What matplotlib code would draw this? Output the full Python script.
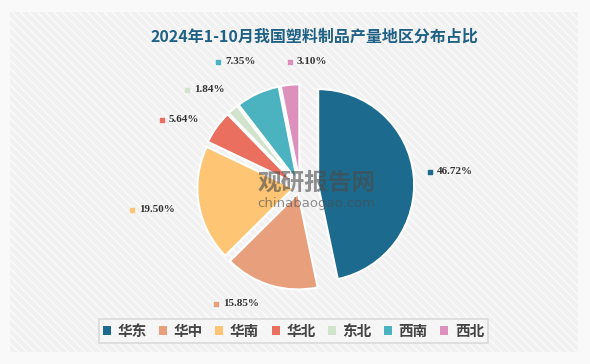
import matplotlib
matplotlib.use("Agg")
import matplotlib.pyplot as plt
from matplotlib.patches import Rectangle
import numpy as np

plt.rcParams['font.family'] = ['Noto Sans CJK SC', 'DejaVu Sans']

title = "2024年1-10月我国塑料制品产量地区分布占比"
regions = ["华东", "华中", "华南", "华北", "东北", "西南", "西北"]
shares = [46.72, 15.85, 19.50, 5.64, 1.84, 7.35, 3.10]
colors = ["#1c6b8f", "#e89f7c", "#fec574", "#ea6f5f", "#d1e2cd", "#4bb2c0", "#dd90bb"]
explode = [0.19, 0.07, 0.07, 0.07, 0.07, 0.07, 0.07]
# label anchor points (pixel layout, like ECharts outside labels)
label_xy = [(430, 172), (216, 304), (132, 210), (162, 120), (187, 90), (218, 62), (290, 62)]

W, H = 590, 364
fig = plt.figure(figsize=(W / 100, H / 100), dpi=100)
fig.patch.set_facecolor("#f9f9f9")
ax = fig.add_axes([0, 0, 1, 1])

R = 96
cx, cy = 300, H - 187
wedges, _ = ax.pie(shares, colors=colors, explode=[e * R for e in explode], startangle=90,
                   counterclock=False, radius=R, center=(cx, cy), frame=False,
                   wedgeprops=dict(edgecolor="white", linewidth=1.5))
for w in wedges:
    w.set_zorder(2)

ax.set_xlim(0, W)
ax.set_ylim(0, H)
ax.set_aspect("equal")
ax.axis("off")

# panel background with diagonal stripes
ax.add_patch(Rectangle((10, H - 352), 568, 340, facecolor="#f1f1f1", edgecolor="none", zorder=0))
ax.add_patch(Rectangle((10, H - 352), 568, 340, facecolor="none", edgecolor="#fbfbfb",
                       hatch="\\\\\\\\", linewidth=0, zorder=0.5))

for (lx, ly), v, c in zip(label_xy, shares, colors):
    ax.scatter([lx], [H - ly], marker="s", s=5, color=c, zorder=3)
    ax.text(lx + 7, H - ly, f"{v:.2f}%", fontsize=8, fontweight="bold", color="#333333",
            family=["Liberation Serif", "DejaVu Serif"], va="center", ha="left", zorder=3)

# watermark
ax.text(317, H - 183, "观研报告网", fontsize=17, fontweight="bold", color="#4a4a4a", alpha=0.6,
        ha="center", va="center", zorder=4)
ax.text(316, H - 203, "chinabaogao.com", fontsize=9.5, color="#4a4a4a", alpha=0.6,
        ha="center", va="center", zorder=4, family=["DejaVu Sans"])

ax.text(314, H - 37, title, fontsize=11.5, fontweight="bold", color="#1f6185",
        ha="center", va="center", zorder=4)

leg = ax.legend(wedges, regions, loc="center", bbox_to_anchor=(293.5 / W, 1 - 331 / H),
                bbox_transform=fig.transFigure, ncol=7, frameon=True, fancybox=False,
                handlelength=0.55, handleheight=0.55, handletextpad=0.45, columnspacing=0.85,
                prop={"size": 10.5, "weight": "bold"}, borderpad=0.3, borderaxespad=0)
leg.get_frame().set_edgecolor("#d3d3d3")
leg.get_frame().set_facecolor("#f7f7f7")
leg.get_frame().set_linewidth(1.2)
for t in leg.get_texts():
    t.set_color("#444444")
for h in leg.legend_handles:
    h.set_edgecolor("none")

fig.savefig("out.png", dpi=100, facecolor=fig.get_facecolor())
